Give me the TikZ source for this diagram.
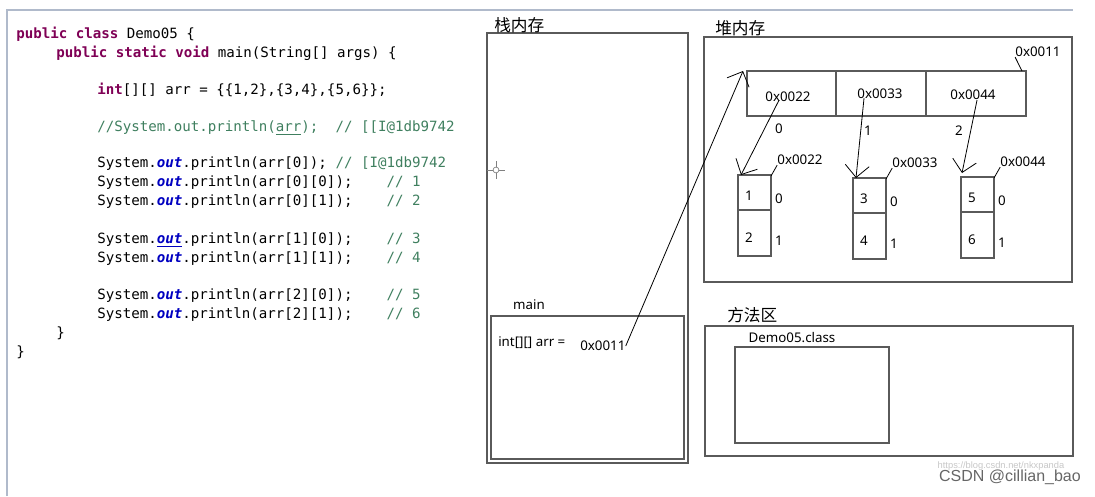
\documentclass[tikz,border=0pt]{standalone}
\usepackage{fontspec}
\setmainfont{Noto Sans}
\setmonofont{DejaVu Sans Mono}
\newfontfamily\cjkfont{Noto Sans CJK SC}
\newfontfamily\wmfont{Liberation Sans}
\usepackage{xcolor}
\usetikzlibrary{positioning,calc,arrows.meta}

\definecolor{kwcol}{HTML}{7F0055}
\definecolor{outcol}{HTML}{0000C0}
\definecolor{cmtcol}{HTML}{3F7F5F}
\definecolor{framecol}{HTML}{B0BACB}
\definecolor{boxcol}{HTML}{5A5A5A}

\newcommand{\kw}[1]{\textcolor{kwcol}{\textbf{#1}}}
\newcommand{\fld}[1]{\textcolor{outcol}{\textbf{\textit{#1}}}}
\newcommand{\cmt}[1]{\textcolor{cmtcol}{#1}}

\begin{document}
\begin{tikzpicture}[x=0.75pt,y=-0.75pt,
	code/.style={anchor=west,inner sep=0pt,font=\ttfamily\fontsize{10.6}{12}\selectfont},
	lbl/.style={inner sep=0pt,font=\fontsize{10}{12}\selectfont},
	area/.style={inner sep=0pt,anchor=west,font=\cjkfont\fontsize{12.5}{14}\selectfont},
	box/.style={draw=boxcol,line width=0.9pt},
	ptr/.style={line width=0.6pt,-{Straight Barb[length=9pt,width=18pt,line width=0.6pt]}}]
	
	\useasboundingbox (0,0) rectangle (1095,496);
	
	% screenshot frame
	\draw[framecol,line width=1.5pt] (7,496) -- (7,10) -- (1073,10);
	
	% source code
	\node[code] (l1) at (16,34) {\kw{public class} Demo05 \{};
	\node[code] (l2) at (56,53) {\kw{public static void} main(String[] args) \{};
	\node[code] (l3) at (97,90) {\kw{int}[][] arr = \{\{1,2\},\{3,4\},\{5,6\}\};};
	\node[code] (l4) at (97,128) {\cmt{//System.out.println(\underline{arr});\ \ // [[I@1db9742}};
	\node[code] (l5) at (97,164) {System.\fld{out}.println(arr[0]); \cmt{// [I@1db9742}};
	\node[code] (l6) at (97,183) {System.\fld{out}.println(arr[0][0]);\ \ \ \ \cmt{// 1}};
	\node[code] (l7) at (97,202) {System.\fld{out}.println(arr[0][1]);\ \ \ \ \cmt{// 2}};
	\node[code] (l8) at (97,240) {System.\fld{\underline{out}}.println(arr[1][0]);\ \ \ \ \cmt{// 3}};
	\node[code] (l9) at (97,259) {System.\fld{out}.println(arr[1][1]);\ \ \ \ \cmt{// 4}};
	\node[code] (l10) at (97,296) {System.\fld{out}.println(arr[2][0]);\ \ \ \ \cmt{// 5}};
	\node[code] (l11) at (97,315) {System.\fld{out}.println(arr[2][1]);\ \ \ \ \cmt{// 6}};
	\node[code] (l12) at (56,333) {\}};
	\node[code] (l13) at (16,352) {\}};
	
	% stack
	\draw[box] (487,33) rectangle (688,463);
	\draw[box] (491,316) rectangle (684,459);
	\node[area] (stack) at (494,25) {栈内存};
	\node[lbl] (main) at (529,305) {main};
	\node[lbl,anchor=west] (decl) at (498,343) {int[][] arr =};
	\node[lbl,anchor=west] (ref) at (580,346) {0x0011};
	
	% cursor
	\draw[gray,line width=0.5pt] (487,170) -- (505,170) (496,161) -- (496,179);
	\draw[gray,line width=0.5pt,fill=white] (496,170) circle (2.2pt);
	
	% heap
	\draw[box] (704,37) rectangle (1072,282);
	\node[area] (heap) at (715,28) {堆内存};
	
	\draw[box] (747,71) coordinate (outer) rectangle (1026,116);
	\draw[box] (836,71) -- (836,116) (926,71) -- (926,116);
	\node[lbl] (c0) at (788,97) {0x0022};
	\node[lbl] (c1) at (880,94) {0x0033};
	\node[lbl] (c2) at (973,95) {0x0044};
	\node[lbl] (i0) at (779,129) {0};
	\node[lbl] (i1) at (868,131) {1};
	\node[lbl] (i2) at (959,131) {2};
	\node[lbl] (addr) at (1038,52) {0x0011};
	\draw[line width=0.6pt] (1022,71) -- (addr.south west);
	
	\foreach \i/\x/\y/\a/\b/\addr in {1/738/175/1/2/0x0022,2/853/178/3/4/0x0033,3/961/177/5/6/0x0044}{
		\draw[box] (\x,\y) coordinate (sub\i) rectangle ++(33,81);
		\draw[box] (\x,\y+35) -- ++(33,0);
		\node[lbl] (v\i a) at (\x+11,\y+21) {\a};
		\node[lbl] (v\i b) at (\x+11,\y+63) {\b};
		\node[lbl] (k\i a) at (\x+41,\y+24) {0};
		\node[lbl] (k\i b) at (\x+41,\y+66) {1};
		\node[lbl] (s\i) at (\x+62,\y-15) {\addr};
		\draw[line width=0.6pt] (\x+33,\y+1) -- (s\i.south west);
	}
	
	% pointers
	\draw[ptr] (ref.east) -- ($(outer)+(-4,0)$);
	\draw[ptr] ($(c0.south)+(-9,-2)$) -- ($(sub1)+(3,0)$);
	\draw[ptr] ($(c1.south)+(-16,-1)$) -- ($(sub2)+(3,0)$);
	\draw[ptr] ($(c2.south)+(4,0)$) -- ($(sub3)+(1,-4)$);
	
	% method area
	\draw[box] (705,326) rectangle (1073,456);
	\draw[box] (735,347) rectangle (889,443);
	\node[area] (method) at (727,315) {方法区};
	\node[lbl] (cls) at (792,338) {Demo05.class};
	
	% watermark
	\node[inner sep=0pt,text=black!22,font=\wmfont\fontsize{7}{8}\selectfont] (wm1) at (1001,466) {https://blog.csdn.net/nkxpanda};
	\node[inner sep=0pt,text=black!60,font=\wmfont\fontsize{12}{14}\selectfont] (wm2) at (1010,477) {CSDN @cillian\_bao};
\end{tikzpicture}
\end{document}
